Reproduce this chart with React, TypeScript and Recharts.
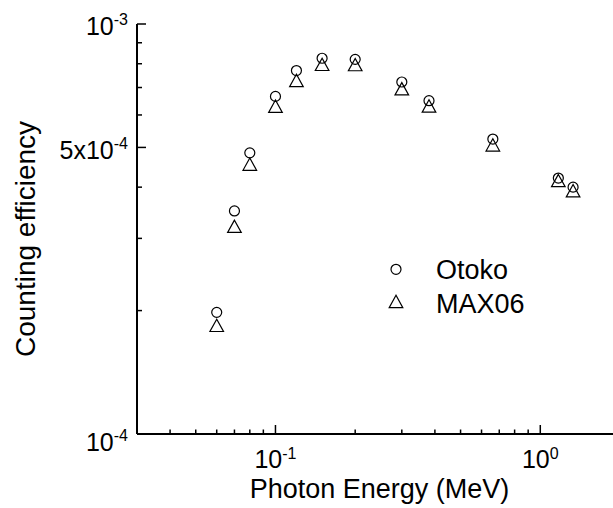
import React from 'react';
import { ScatterChart, Scatter, XAxis, YAxis, Legend } from 'recharts';

// photon energies (MeV) and counting efficiencies
const energy = [0.06, 0.07, 0.08, 0.1, 0.12, 0.15, 0.2, 0.3, 0.38, 0.662, 1.17, 1.33];
const otoko = [1.98e-4, 3.5e-4, 4.85e-4, 6.66e-4, 7.7e-4, 8.25e-4, 8.2e-4, 7.22e-4, 6.5e-4, 5.24e-4, 4.21e-4, 4.0e-4];
const max06 = [1.84e-4, 3.21e-4, 4.55e-4, 6.3e-4, 7.28e-4, 7.97e-4, 7.96e-4, 6.95e-4, 6.31e-4, 5.07e-4, 4.15e-4, 3.92e-4];

const xTicks = [0.04, 0.05, 0.06, 0.07, 0.08, 0.09, 0.1, 0.2, 0.3, 0.4, 0.5, 0.6, 0.7, 0.8, 0.9, 1, 2];
const xLabels = [
  { v: 0.1, base: '10', exp: '-1' },
  { v: 1, base: '10', exp: '0' },
];
const yTicks = [1e-4, 2e-4, 3e-4, 4e-4, 5e-4, 6e-4, 7e-4, 8e-4, 9e-4, 1e-3];
const yLabels = [
  { v: 1e-4, base: '10', exp: '-4', dy: 17 },
  { v: 5e-4, base: '5x10', exp: '-4', dy: 12 },
  { v: 1e-3, base: '10', exp: '-3', dy: 11 },
];

const FONT = '"Liberation Sans", Arial, Helvetica, sans-serif';

const otokoData = energy.map((e, i) => ({ x: e, y: otoko[i] }));
const maxData = energy.map((e, i) => ({ x: e, y: max06[i] }));

const near = (a: number, b: number) => Math.abs(a - b) / b < 1e-6;

function XTick(props: any) {
  const { x, y, payload } = props;
  const lab = xLabels.find((l) => near(payload.value, l.v));
  const len = lab ? 9 : 4.5;
  return (
    <g>
      <line x1={x} y1={y} x2={x} y2={y - len} stroke="#000" strokeWidth={1.5} />
      {lab && (
        <text x={x} y={y + 34} textAnchor="middle" fontFamily={FONT} fontSize={25} fill="#000">
          {lab.base}
          <tspan dy={-9} fontSize={16}>{lab.exp}</tspan>
        </text>
      )}
    </g>
  );
}

function YTick(props: any) {
  const { x, y, payload } = props;
  const lab = yLabels.find((l) => near(payload.value, l.v));
  const len = lab ? 9 : 5;
  return (
    <g>
      <line x1={x} y1={y} x2={x + len} y2={y} stroke="#000" strokeWidth={1.5} />
      {lab && (
        <text x={x - 9} y={y + lab.dy} textAnchor="end" fontFamily={FONT} fontSize={25} fill="#000">
          {lab.base}
          <tspan dy={-10} fontSize={16}>{lab.exp}</tspan>
        </text>
      )}
    </g>
  );
}

const circleShape = (p: any) => (
  <circle cx={p.cx} cy={p.cy} r={5} fill="none" stroke="#000" strokeWidth={1.2} />
);

const triangleShape = (p: any) => (
  <path
    d={`M${p.cx},${p.cy - 6.2} L${p.cx - 6.8},${p.cy + 6.1} L${p.cx + 6.8},${p.cy + 6.1} Z`}
    fill="none"
    stroke="#000"
    strokeWidth={1.2}
  />
);

function LegendBox() {
  return (
    <svg width={170} height={75}>
      <circle cx={16} cy={19.3} r={5} fill="none" stroke="#000" strokeWidth={1.2} />
      <text x={56} y={29.3} fontFamily={FONT} fontSize={27} fill="#000">Otoko</text>
      <path d="M16,45.3 L9.2,57.6 L22.8,57.6 Z" fill="none" stroke="#000" strokeWidth={1.2} />
      <text x={56} y={63.3} fontFamily={FONT} fontSize={27} fill="#000">MAX06</text>
    </svg>
  );
}

function XTitle(props: any) {
  const vb = props.viewBox || { x: 137, y: 434, width: 483 };
  return (
    <text x={vb.x + vb.width / 2 + 1} y={vb.y + 64} textAnchor="middle" fontFamily={FONT} fontSize={27} fill="#000">
      Photon Energy (MeV)
    </text>
  );
}

function YTitle() {
  return (
    <text x={35} y={239} transform="rotate(-90 35 239)" textAnchor="middle" fontFamily={FONT} fontSize={28} fill="#000">
      Counting efficiency
    </text>
  );
}

export default function App() {
  return (
    <div style={{ position: 'absolute', left: 0, top: 0, width: 613, height: 508, overflow: 'hidden', background: '#fff' }}>
      <ScatterChart width={622} height={508} margin={{ top: 24, right: 2, bottom: 0, left: 0 }}>
        <XAxis
          type="number"
          dataKey="x"
          scale="log"
          domain={[0.03, 2]}
          allowDataOverflow
          ticks={xTicks}
          interval={0}
          height={74}
          tickSize={0}
          tickMargin={0}
          tickLine={false}
          axisLine={{ stroke: '#000', strokeWidth: 2 }}
          tick={<XTick />}
          label={<XTitle />}
        />
        <YAxis
          type="number"
          dataKey="y"
          scale="log"
          domain={[1e-4, 1e-3]}
          allowDataOverflow
          ticks={yTicks}
          interval={0}
          width={137}
          tickSize={0}
          tickMargin={0}
          tickLine={false}
          axisLine={{ stroke: '#000', strokeWidth: 2 }}
          tick={<YTick />}
          label={<YTitle />}
        />
        <Legend
          layout="vertical"
          align="center"
          verticalAlign="middle"
          content={() => <LegendBox />}
          wrapperStyle={{ position: 'absolute', left: 380, top: 250, width: 170, height: 75 }}
        />
        <Scatter name="Otoko" data={otokoData} shape={circleShape} isAnimationActive={false} />
        <Scatter name="MAX06" data={maxData} shape={triangleShape} isAnimationActive={false} />
      </ScatterChart>
    </div>
  );
}
